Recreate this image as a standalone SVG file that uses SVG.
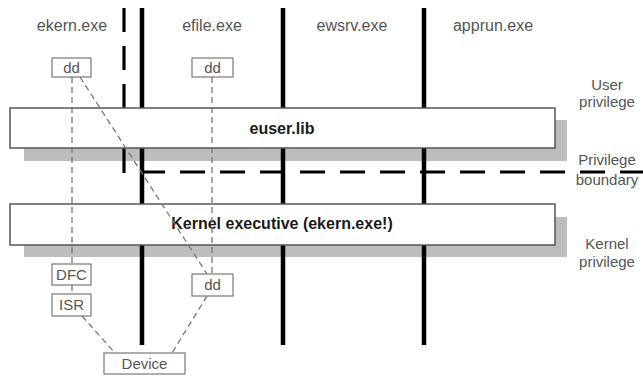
<svg xmlns="http://www.w3.org/2000/svg" width="643" height="376" viewBox="0 0 643 376">
<style>
.bg{fill:#fff}
.lbl{font-family:"Liberation Sans",Arial,sans-serif;font-size:16px;fill:#555;text-anchor:middle}
.rl{font-family:"Liberation Sans",Arial,sans-serif;font-size:15px;fill:#555;text-anchor:middle}
.bold{font-family:"Liberation Sans",Arial,sans-serif;font-size:16px;font-weight:bold;fill:#1a1a1a;text-anchor:middle}
.box{fill:#fff;stroke:#777;stroke-width:1.2}
.big{fill:#fff;stroke:#555;stroke-width:1.5}
.shadow{fill:#bdbdbd}
.thick{stroke:#000;stroke-width:4.5}
.pdash{stroke:#000;stroke-width:3.2;fill:none}
.conn{stroke:#777;stroke-width:1.3;stroke-dasharray:6 4;fill:none}
.btxt{font-family:"Liberation Sans",Arial,sans-serif;font-size:15px;fill:#555;text-anchor:middle}
</style>
<rect class="bg" x="0" y="0" width="643" height="376"/>

<g id="process-labels">
<text class="lbl" x="72" y="31">ekern.exe</text>
<text class="lbl" x="212" y="31">efile.exe</text>
<text class="lbl" x="352" y="31">ewsrv.exe</text>
<text class="lbl" x="493" y="31">apprun.exe</text>
</g>

<g id="privilege-labels">
<text class="rl" x="607" y="90">User</text>
<text class="rl" x="607" y="107">privilege</text>
<text class="rl" x="607" y="165">Privilege</text>
<text class="rl" x="607" y="185">boundary</text>
<text class="rl" x="607" y="249">Kernel</text>
<text class="rl" x="607" y="267">privilege</text>
</g>

<g id="shadows">
<rect class="shadow" x="24" y="120" width="543" height="41"/>
<rect class="shadow" x="24" y="217" width="543" height="40"/>
</g>

<g id="process-lines">
<line class="thick" x1="142" y1="8" x2="142" y2="345"/>
<line class="thick" x1="283" y1="8" x2="283" y2="345"/>
<line class="thick" x1="424" y1="8" x2="424" y2="345"/>
<line class="pdash" x1="124" y1="8" x2="124" y2="110" stroke-dasharray="24 14"/>
<line class="pdash" x1="124" y1="147" x2="124" y2="173"/>
<line class="pdash" x1="140" y1="172" x2="643" y2="172" stroke-dasharray="25 15"/>
</g>

<g id="euser">
<rect class="big" x="10" y="108" width="545" height="40"/>
<text class="bold" x="282" y="134">euser.lib</text>
</g>

<g id="kernel">
<rect class="big" x="10" y="204" width="545" height="41"/>
<text class="bold" x="282" y="229">Kernel executive (ekern.exe!)</text>
</g>

<g id="connectors">
<line class="conn" x1="72" y1="77" x2="72" y2="264"/>
<line class="conn" x1="72" y1="285" x2="72" y2="294"/>
<line class="conn" x1="80" y1="77" x2="207" y2="274"/>
<line class="conn" x1="212" y1="77" x2="212" y2="274"/>
<line class="conn" x1="82" y1="316" x2="115" y2="353"/>
<line class="conn" x1="207" y1="296" x2="172" y2="353"/>
</g>

<g id="dd-ekern">
<rect class="box" x="52" y="58" width="39" height="19"/>
<text class="btxt" x="71.5" y="73">dd</text>
</g>
<g id="dd-efile">
<rect class="box" x="192" y="58" width="41" height="19"/>
<text class="btxt" x="212.5" y="73">dd</text>
</g>
<g id="dfc">
<rect class="box" x="52" y="264" width="39" height="21"/>
<text class="btxt" x="71.5" y="280">DFC</text>
</g>
<g id="isr">
<rect class="box" x="52" y="294" width="39" height="22"/>
<text class="btxt" x="71.5" y="310">ISR</text>
</g>
<g id="dd-kernel">
<rect class="box" x="192" y="274" width="41" height="22"/>
<text class="btxt" x="212.5" y="290">dd</text>
</g>
<g id="device">
<rect class="box" x="104" y="353" width="81" height="21"/>
<text class="btxt" x="144.5" y="369">Device</text>
</g>
</svg>
